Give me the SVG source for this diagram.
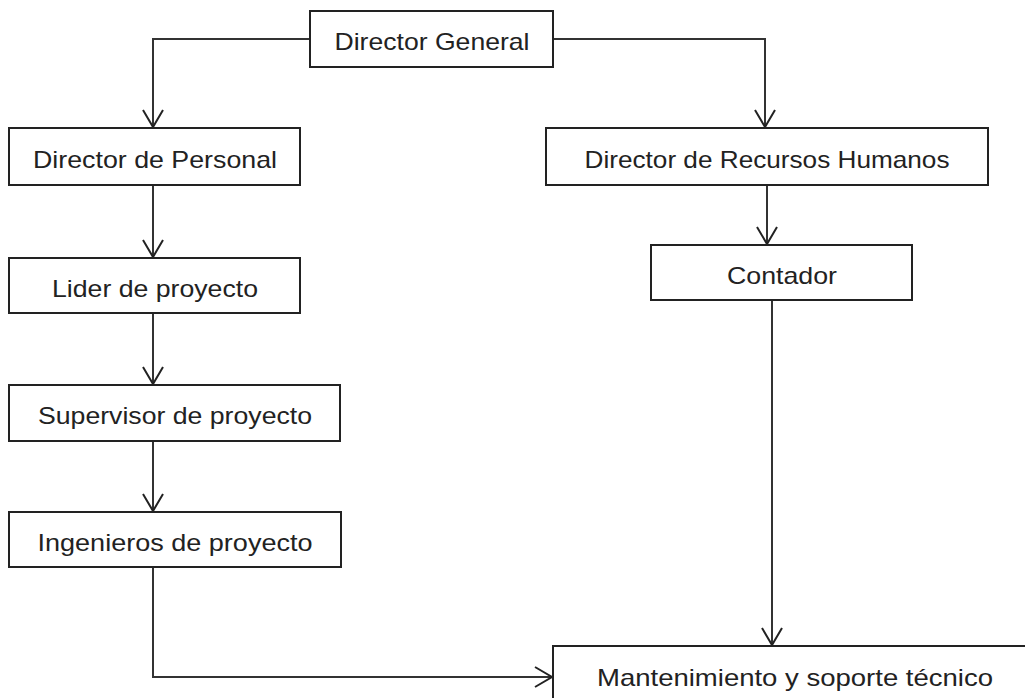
<svg xmlns="http://www.w3.org/2000/svg" width="1025" height="698" viewBox="0 0 1025 698">
<style>
.box{fill:#fff;stroke:#222;stroke-width:2}
.lbl{font-family:"Liberation Sans",Arial,sans-serif;font-size:24px;fill:#222;text-anchor:middle}
.con{fill:none;stroke:#333;stroke-width:2}
</style>
<defs>
<marker id="arr" markerUnits="userSpaceOnUse" markerWidth="20" markerHeight="24" refX="17" refY="10" orient="auto" viewBox="0 0 20 20" overflow="visible">
<path d="M0,0 L17,10 L0,20" fill="none" stroke="#222" stroke-width="2"/>
</marker>
</defs>
<rect width="1025" height="698" fill="#fff"/>
<g id="connectors">
<path class="con" d="M310,39 H153 V127" marker-end="url(#arr)"/>
<path class="con" d="M553,39 H765 V127" marker-end="url(#arr)"/>
<path class="con" d="M153,185 V257" marker-end="url(#arr)"/>
<path class="con" d="M153,313 V384" marker-end="url(#arr)"/>
<path class="con" d="M153,441 V511" marker-end="url(#arr)"/>
<path class="con" d="M153,567 V677 H552" marker-end="url(#arr)"/>
<path class="con" d="M767,185 V244" marker-end="url(#arr)"/>
<path class="con" d="M772,300 V645" marker-end="url(#arr)"/>
</g>
<g id="n-general"><rect class="box" x="310" y="11" width="243" height="56"/><text class="lbl" x="432" y="50" textLength="195" lengthAdjust="spacingAndGlyphs">Director General</text></g>
<g id="n-personal"><rect class="box" x="9" y="128" width="291" height="57"/><text class="lbl" x="155" y="168" textLength="244" lengthAdjust="spacingAndGlyphs">Director de Personal</text></g>
<g id="n-rrhh"><rect class="box" x="546" y="128" width="442" height="57"/><text class="lbl" x="767" y="168" textLength="365" lengthAdjust="spacingAndGlyphs">Director de Recursos Humanos</text></g>
<g id="n-lider"><rect class="box" x="9" y="258" width="291" height="55"/><text class="lbl" x="155" y="297" textLength="206" lengthAdjust="spacingAndGlyphs">Lider de proyecto</text></g>
<g id="n-contador"><rect class="box" x="651" y="245" width="261" height="55"/><text class="lbl" x="782" y="284" textLength="110" lengthAdjust="spacingAndGlyphs">Contador</text></g>
<g id="n-supervisor"><rect class="box" x="9" y="385" width="331" height="56"/><text class="lbl" x="175" y="424" textLength="274" lengthAdjust="spacingAndGlyphs">Supervisor de proyecto</text></g>
<g id="n-ingenieros"><rect class="box" x="9" y="512" width="332" height="55"/><text class="lbl" x="175" y="551" textLength="275" lengthAdjust="spacingAndGlyphs">Ingenieros de proyecto</text></g>
<g id="n-mant"><rect class="box" x="553" y="646" width="490" height="70"/><text class="lbl" x="795" y="686" textLength="396" lengthAdjust="spacingAndGlyphs">Mantenimiento y soporte técnico</text></g>
</svg>
